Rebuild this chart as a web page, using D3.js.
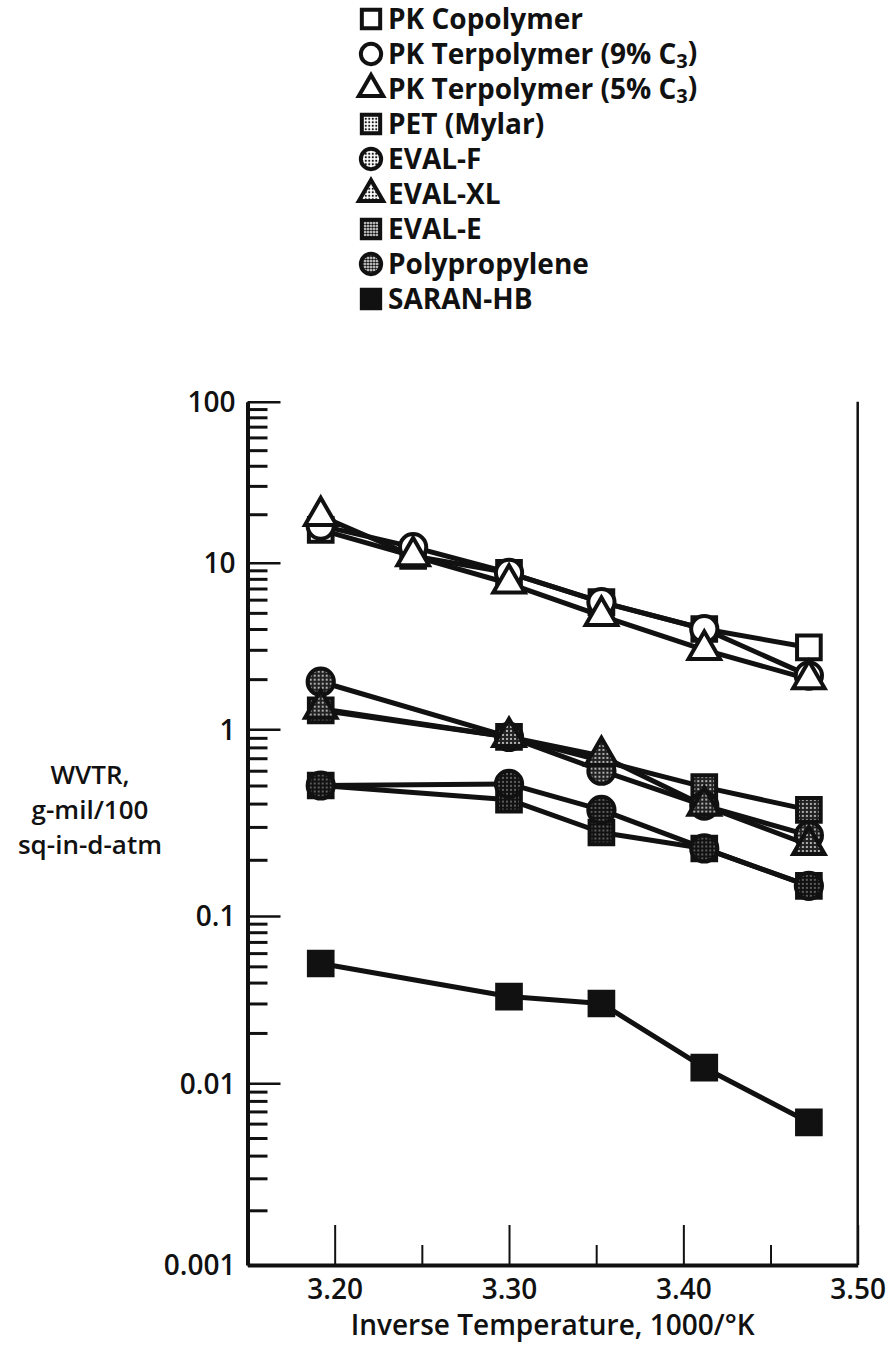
<!DOCTYPE html>
<html>
<head>
<meta charset="utf-8">
<script src="https://cdn.jsdelivr.net/npm/d3@7"></script>
<style>
  body { margin: 0; background: #fff; }
  text { font-family: "Open Sans", sans-serif; fill: #111; }
</style>
</head>
<body>
<svg id="chart" width="887" height="1346"></svg>
<script>
// inverse temperature, 1000/K
const temps = [3.192, 3.245, 3.300, 3.353, 3.412, 3.472];

// WVTR values, g-mil/100 sq-in-d-atm (null = no point)
const pkCopolymer   = [16, 11, 8.7, 5.8, 4.0, 3.1];
const pkTer9        = [17, 12.5, 8.7, 5.8, 4.0, 2.1];
const pkTer5        = [19.5, 11, 7.5, 4.8, 3.0, 2.0];
const pet           = [1.3, null, 0.91, null, 0.49, 0.37];
const evalF         = [1.93, null, 0.91, 0.6, 0.39, 0.27];
const evalXL        = [1.33, null, 0.91, 0.72, 0.39, 0.24];
const evalE         = [0.5, null, 0.42, 0.28, 0.23, 0.145];
const polypropylene = [0.5, null, 0.51, 0.37, 0.23, 0.145];
const saranHB       = [0.052, null, 0.033, 0.030, 0.0124, 0.0061];

const seriesNames = ["PK Copolymer", "PK Terpolymer (9% C3)", "PK Terpolymer (5% C3)",
  "PET (Mylar)", "EVAL-F", "EVAL-XL", "EVAL-E", "Polypropylene", "SARAN-HB"];

const xTicks = [3.20, 3.30, 3.40, 3.50];
const xMinorTicks = [3.25, 3.35, 3.45];
const yTicks = [0.001, 0.01, 0.1, 1, 10, 100];
const yTickLabels = ["0.001", "0.01", "0.1", "1", "10", "100"];

// shade: 0 open, 1 light dots, 2 dark dots, 3 solid
const series = [
  { name: seriesNames[0], values: pkCopolymer, shape: "square", shade: 0 },
  { name: seriesNames[1], values: pkTer9, shape: "circle", shade: 0 },
  { name: seriesNames[2], values: pkTer5, shape: "triangle", shade: 0 },
  { name: seriesNames[3], values: pet, shape: "square", shade: 1 },
  { name: seriesNames[4], values: evalF, shape: "circle", shade: 1 },
  { name: seriesNames[5], values: evalXL, shape: "triangle", shade: 1 },
  { name: seriesNames[6], values: evalE, shape: "square", shade: 2 },
  { name: seriesNames[7], values: polypropylene, shape: "circle", shade: 2 },
  { name: seriesNames[8], values: saranHB, shape: "square", shade: 3 }
];

const svg = d3.select("#chart");

// dotted fills for the shaded markers
const defs = svg.append("defs");
function dotPattern(id, step, r, bg, dot) {
  var p = defs.append("pattern")
    .attr("id", id)
    .attr("patternUnits", "userSpaceOnUse")
    .attr("width", step)
    .attr("height", step);
  p.append("rect").attr("width", step).attr("height", step).attr("fill", bg);
  p.append("circle").attr("cx", step / 2).attr("cy", step / 2).attr("r", r).attr("fill", dot);
}
dotPattern("legLight", 3.5, 1.1, "#fff", "#111");
dotPattern("legDark", 3, 1.3, "#fff", "#111");
dotPattern("plotLight", 4, 1.0, "#222", "#ddd");
dotPattern("plotDark", 4, 0.8, "#111", "#bbb");

function fillFor(shade, inLegend) {
  if (shade == 0) return "#fff";
  if (shade == 3) return "#111";
  if (shade == 1) return inLegend ? "url(#legLight)" : "url(#plotLight)";
  return inLegend ? "url(#legDark)" : "url(#plotDark)";
}

var left = 247.5, right = 857.7, bottom = 1265;

var x = d3.scaleLinear().domain([3.15, 3.50]).range([left, right]);
// scanned figure: decades are not all the same height
var y = d3.scaleLog()
  .domain(yTicks)
  .range([bottom, 1083.3, 916, 729.3, 562.7, 401.7]);

var symbolType = { square: d3.symbolSquare, circle: d3.symbolCircle, triangle: d3.symbolTriangle };
var symbolSize = { square: 560, circle: 540, triangle: 430 };

// minor y ticks
var yMinor = [];
for (var e = -3; e < 2; e++)
  for (var m = 2; m <= 9; m++) yMinor.push(m * Math.pow(10, e));

svg.append("g")
  .attr("transform", "translate(" + left + ",0)")
  .call(d3.axisLeft(y).tickValues(yMinor).tickSize(-20).tickFormat(""))
  .call(g => g.select(".domain").remove())
  .call(g => g.selectAll("line").attr("stroke", "#111").attr("stroke-width", 3));

svg.append("g")
  .attr("transform", "translate(" + left + ",0)")
  .call(d3.axisLeft(y).tickValues(yTicks).tickSize(-33).tickSizeOuter(0).tickPadding(12)
    .tickFormat((d, i) => yTickLabels[i]))
  .call(g => g.select(".domain").attr("stroke", "#111").attr("stroke-width", 4))
  .call(g => g.selectAll("line").attr("stroke", "#111").attr("stroke-width", 2.5))
  .call(g => g.selectAll("text").attr("font-size", 28).attr("font-weight", 600)
    .attr("font-family", "'Open Sans', sans-serif").attr("fill", "#111").attr("dy", "0.35em"));

svg.append("g")
  .attr("transform", "translate(0," + bottom + ")")
  .call(d3.axisBottom(x).tickValues(xMinorTicks).tickSize(-20).tickFormat(""))
  .call(g => g.select(".domain").remove())
  .call(g => g.selectAll("line").attr("stroke", "#111").attr("stroke-width", 2));

svg.append("g")
  .attr("transform", "translate(0," + bottom + ")")
  .call(d3.axisBottom(x).tickValues(xTicks).tickSize(-40).tickSizeOuter(0).tickPadding(14)
    .tickFormat(d3.format(".2f")))
  .call(g => g.select(".domain").attr("stroke", "#111").attr("stroke-width", 4))
  .call(g => g.selectAll("line").attr("stroke", "#111").attr("stroke-width", 2))
  .call(g => g.selectAll("text").attr("font-size", 28).attr("font-weight", 600)
    .attr("font-family", "'Open Sans', sans-serif").attr("fill", "#111"));

// right frame edge
svg.append("line")
  .attr("x1", x(3.50)).attr("x2", x(3.50))
  .attr("y1", y(100)).attr("y2", bottom)
  .attr("stroke", "#111").attr("stroke-width", 2.5);

// axis titles
svg.append("text")
  .attr("x", (left + right) / 2).attr("y", 1335)
  .attr("text-anchor", "middle").attr("font-size", 28).attr("font-weight", 600)
  .text("Inverse Temperature, 1000/°K");

var yTitle = svg.append("text")
  .attr("text-anchor", "middle").attr("font-size", 26).attr("font-weight", 600);
["WVTR,", "g-mil/100", "sq-in-d-atm"].forEach((t, i) => {
  yTitle.append("tspan").attr("x", 90).attr("y", 784 + i * 35).text(t);
});

// lines
var line = d3.line()
  .x(d => x(d.t))
  .y(d => y(d.v));

series.forEach(s => {
  var pts = temps.map((t, i) => ({ t: t, v: s.values[i] })).filter(d => d.v != null);
  svg.append("path")
    .datum(pts)
    .attr("d", line)
    .attr("fill", "none")
    .attr("stroke", "#111")
    .attr("stroke-width", 5)
    .attr("stroke-linejoin", "round");
});

// markers
series.forEach(s => {
  var pts = temps.map((t, i) => ({ t: t, v: s.values[i] })).filter(d => d.v != null);
  svg.append("g").selectAll("path")
    .data(pts)
    .enter()
    .append("path")
    .attr("d", d3.symbol().type(symbolType[s.shape]).size(symbolSize[s.shape]))
    .attr("transform", d => "translate(" + x(d.t) + "," + y(d.v) + ")")
    .attr("fill", fillFor(s.shade, false))
    .attr("stroke", "#111")
    .attr("stroke-width", 4);
});

// legend
var legend = svg.append("g");
series.forEach((s, i) => {
  var cy = 19 + i * 35;
  legend.append("path")
    .attr("d", d3.symbol().type(symbolType[s.shape]).size(symbolSize[s.shape] * 0.6))
    .attr("transform", "translate(" + 371 + "," + cy + ")")
    .attr("fill", fillFor(s.shade, true))
    .attr("stroke", "#111")
    .attr("stroke-width", 4);
  var t = legend.append("text")
    .attr("x", 388).attr("y", cy).attr("dy", "0.35em")
    .attr("font-size", 28).attr("font-weight", 700);
  if (s.name.endsWith("C3)")) {
    t.append("tspan").text(s.name.slice(0, -3) + "C");
    t.append("tspan").attr("font-size", 20).attr("dy", "0.2em").text("3");
    t.append("tspan").attr("dy", "-0.2em").text(")");
  } else {
    t.text(s.name);
  }
});
</script>
</body>
</html>
